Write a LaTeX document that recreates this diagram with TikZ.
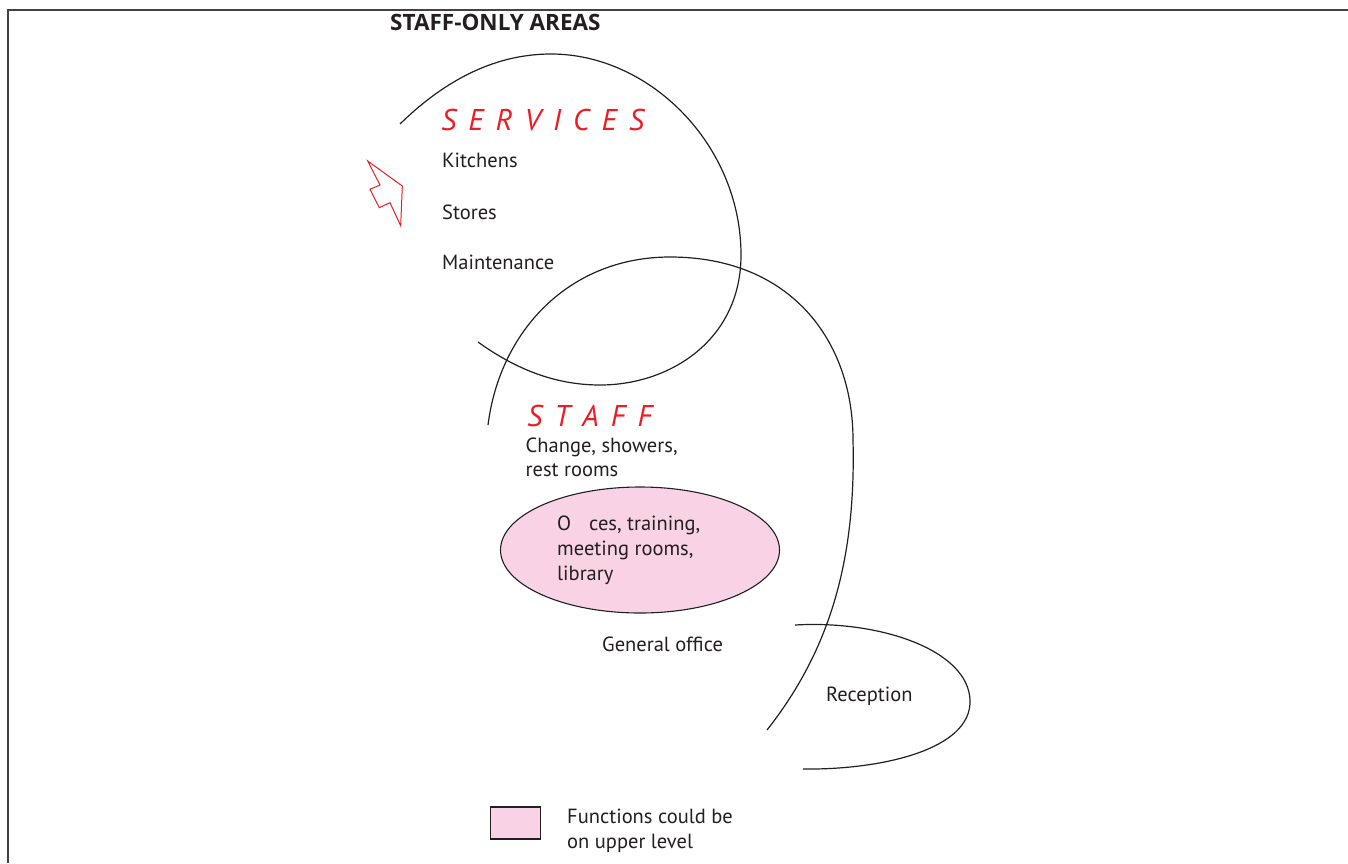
\documentclass[tikz,border=0pt]{standalone}
\usepackage{fontspec}
\setmainfont{PT Sans}
\newfontfamily\titlefont{Open Sans}
\definecolor{inkgray}{HTML}{231F20}
\definecolor{redlbl}{HTML}{ED1C24}
\definecolor{pinkfill}{HTML}{F9D3E5}
\tikzset{
  lbl/.style={anchor=base west, inner sep=0pt, text=inkgray, font=\fontsize{20.5}{24.5}\selectfont},
  head/.style={anchor=base west, inner sep=0pt, text=redlbl, font=\fontsize{30}{34}\selectfont\itshape},
  zone/.style={draw=inkgray, line width=1.2pt},
  frameline/.style={draw=inkgray!85, line width=1.1pt}
}
\newcommand{\spc}[1]{\kern#1pt\relax}
\begin{document}
\begin{tikzpicture}[x=1pt,y=-1pt]
\useasboundingbox (0,0) rectangle (1348,863);
% frame
\draw[frameline] (8,863) -- (8,10) -- (1348,10);
% title
\node[anchor=base west, inner sep=0pt, text=inkgray, font=\fontsize{22.5}{26}\titlefont\bfseries] (title) at (390,30) {STAFF-ONLY AREAS};
% services zone curve
\draw[zone] (400,124) .. controls (440,85) and (490,54) .. (551,54)
  .. controls (650,54) and (741,145) .. (741,255)
  .. controls (741,340) and (670,385) .. (600,385)
  .. controls (550,385) and (510,365) .. (478,342);
% staff zone curve
\draw[zone] (488,425) .. controls (500,330) and (570,257) .. (670,257)
  .. controls (790,257) and (853,340) .. (853,440)
  .. controls (856,560) and (830,650) .. (767,730);
% reception curve
\draw[zone] (795,625) .. controls (880,620) and (968,650) .. (970,700)
  .. controls (972,750) and (880,770) .. (803,769);
% arrow
\draw[redlbl, line width=1pt, line join=miter] (367.7,161) -- (402.3,186) -- (400.7,225.7) -- (390,202.7) -- (379.3,207.7) -- (370,189.3) -- (380,185) -- cycle;
% services
\node[head] (services) at (441,130.5) {S\spc{12}E\spc{12}R\spc{12}V\spc{12}I\spc{12}C\spc{12}E\spc{12}S};
\node[lbl] (kitchens) at (442,167.5) {Kitchens};
\node[lbl] (stores) at (442,219) {Stores};
\node[lbl] (maint) at (442,269) {Maintenance};
% staff
\node[head] (staff) at (527,426) {S\spc{12}T\spc{12}A\spc{12}F\spc{12}F};
\node[lbl] (change1) at (525.5,452.5) {Change, showers,};
\node[lbl] (change2) at (525.5,476) {rest rooms};
% ellipse
\draw[draw=inkgray, line width=1.1pt, fill=pinkfill] (640,550) ellipse [x radius=139.5, y radius=63];
\node[lbl] (offices1) at (557,530.7) {O\hspace{18pt}ces, training,};
\node[lbl] (offices2) at (557,555.5) {meeting rooms,};
\node[lbl] (offices3) at (557,580) {library};
\node[lbl] (genoff) at (602,651.5) {General office};
\node[lbl] (recep) at (826,701.5) {Reception};
% legend
\node[draw=inkgray, line width=1.1pt, fill=pinkfill, minimum width=50pt, minimum height=32pt, inner sep=0pt] (legbox) at (515.7,823) {};
\node[lbl] (legtxt1) at (567,823.3) {Functions could be};
\node[lbl] (legtxt2) at (567,848.3) {on upper level};
\end{tikzpicture}
\end{document}
